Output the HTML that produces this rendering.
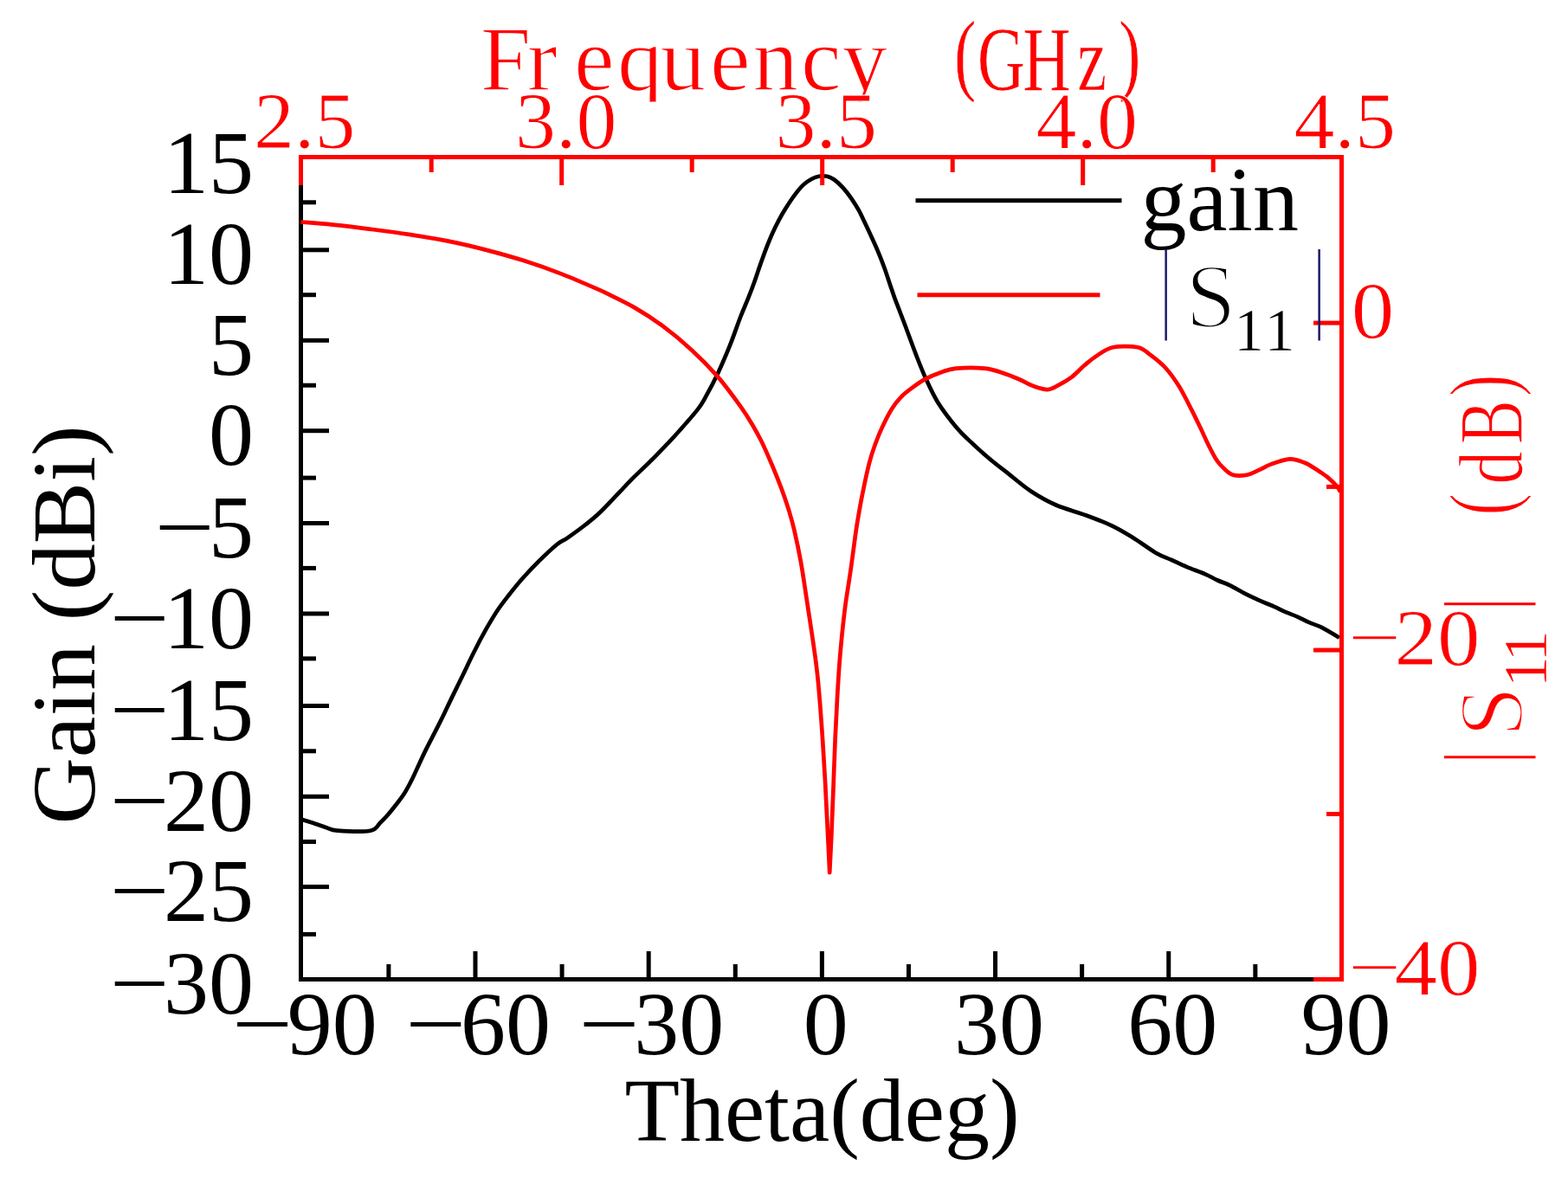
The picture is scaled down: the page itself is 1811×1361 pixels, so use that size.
<!DOCTYPE html>
<html lang="en">
<head>
<meta charset="utf-8">
<title>Gain and |S11| plot</title>
<style>
html, body { margin: 0; padding: 0; background: #ffffff; }
body { width: 1811px; height: 1361px; overflow: hidden; }
svg { display: block; }
text { font-kerning: none; }
</style>
</head>
<body>
<svg width="1811" height="1361" viewBox="0 0 1811 1361" role="img" aria-label="Gain versus theta and S11 versus frequency">
<rect x="0" y="0" width="1811" height="1361" fill="#ffffff"/>
<g id="layer-gain">
<path d="M347.5 946.5 C349.8 947.2 356.6 949.3 361.4 950.8 C366.3 952.4 371.8 954.6 376.5 956.0 C381.2 957.5 381.2 959.1 389.7 959.7 C398.2 960.3 419.6 961.3 427.8 959.7 C436.0 958.1 435.9 953.3 439.2 950.4 C442.5 947.4 444.3 945.6 447.4 942.0 C450.5 938.5 454.5 933.4 457.8 929.2 C461.0 925.1 463.8 921.8 466.8 917.1 C469.8 912.3 472.8 906.6 475.7 900.8 C478.6 895.1 481.3 888.7 484.1 882.7 C486.9 876.7 489.6 870.7 492.7 864.6 C495.7 858.6 498.9 852.6 502.2 846.2 C505.4 839.9 508.8 833.2 512.2 826.3 C515.5 819.4 518.7 812.5 522.4 804.9 C526.1 797.3 529.9 789.5 534.2 780.7 C538.5 771.9 543.5 761.0 548.0 752.2 C552.4 743.4 556.5 735.6 561.0 727.7 C565.4 719.9 570.3 711.6 574.7 705.0 C579.1 698.4 582.6 694.0 587.3 688.0 C592.1 681.9 597.4 675.2 603.3 668.5 C609.2 661.9 615.9 654.7 622.6 648.1 C629.3 641.5 638.2 633.1 643.6 628.7 C649.0 624.3 649.8 625.3 655.2 621.6 C660.5 617.9 669.6 611.4 675.8 606.5 C682.1 601.6 686.1 598.6 692.7 592.3 C699.3 586.0 709.4 575.0 715.5 568.7 C721.5 562.4 722.1 561.3 729.0 554.3 C736.0 547.4 748.2 536.0 757.0 527.1 C765.7 518.2 773.7 509.9 781.7 501.0 C789.7 492.1 799.6 480.9 805.2 473.9 C810.7 466.9 810.9 465.9 814.8 458.9 C818.7 452.0 824.0 442.2 828.7 432.3 C833.4 422.3 838.6 410.1 843.0 399.2 C847.4 388.2 851.6 375.6 855.1 366.5 C858.6 357.5 861.3 351.7 864.0 344.9 C866.7 338.1 869.0 332.1 871.3 325.7 C873.7 319.3 875.6 312.8 877.9 306.4 C880.2 299.9 882.6 293.2 885.0 286.9 C887.4 280.7 890.0 274.3 892.5 268.8 C894.9 263.4 897.1 259.1 899.7 254.2 C902.3 249.3 905.1 244.5 908.2 239.6 C911.2 234.8 914.6 229.5 918.0 225.1 C921.3 220.7 924.8 216.4 928.0 213.4 C931.3 210.3 934.5 208.3 937.5 206.7 C940.4 205.1 942.7 204.2 945.7 203.7 C948.7 203.2 952.5 203.1 955.4 203.7 C958.3 204.3 960.4 205.4 963.4 207.5 C966.4 209.7 970.1 213.1 973.4 216.6 C976.6 220.2 980.0 224.5 983.0 228.8 C986.0 233.1 988.7 237.4 991.4 242.2 C994.1 247.0 996.4 252.1 999.1 257.7 C1001.8 263.3 1005.0 270.3 1007.6 276.0 C1010.2 281.7 1012.2 286.0 1014.6 291.9 C1017.1 297.8 1019.8 305.0 1022.1 311.2 C1024.3 317.5 1026.3 323.8 1028.2 329.4 C1030.1 335.0 1030.9 337.6 1033.5 344.9 C1036.2 352.1 1040.2 362.1 1044.3 373.0 C1048.4 383.9 1054.0 399.6 1058.2 410.3 C1062.3 420.9 1064.9 427.8 1069.1 436.9 C1073.3 446.1 1077.5 455.7 1083.4 465.2 C1089.4 474.7 1098.8 486.8 1104.8 494.1 C1110.9 501.4 1113.3 503.2 1119.6 509.1 C1125.8 515.0 1134.5 523.0 1142.2 529.5 C1149.9 536.0 1157.5 541.7 1165.7 548.1 C1173.8 554.5 1182.0 561.8 1191.0 567.7 C1200.0 573.6 1209.2 578.9 1219.7 583.5 C1230.2 588.1 1243.1 591.1 1254.0 595.2 C1264.9 599.2 1275.9 603.5 1285.1 607.9 C1294.2 612.3 1300.7 616.4 1309.0 621.5 C1317.3 626.6 1327.5 634.4 1334.8 638.7 C1342.2 642.9 1347.3 644.3 1353.3 647.0 C1359.4 649.8 1364.6 652.4 1371.0 655.1 C1377.4 657.8 1386.1 660.7 1392.0 663.3 C1397.8 665.8 1401.6 668.4 1406.4 670.5 C1411.2 672.7 1415.5 673.9 1420.6 676.4 C1425.8 678.9 1431.5 682.5 1437.1 685.4 C1442.7 688.3 1448.6 691.0 1454.4 693.6 C1460.1 696.2 1466.5 698.6 1471.7 700.9 C1476.8 703.2 1481.1 705.5 1485.5 707.4 C1489.9 709.3 1493.6 710.4 1498.0 712.3 C1502.4 714.3 1507.3 717.1 1512.1 719.2 C1516.8 721.3 1520.6 722.0 1526.5 724.9 C1532.3 727.8 1543.5 734.8 1546.9 736.8" fill="none" stroke="#000000" stroke-width="4.7" stroke-linejoin="round" stroke-linecap="butt"/>
<rect x="345.00" y="179.00" width="5.00" height="955.00" fill="#000000"/>
<rect x="345.00" y="1129.00" width="1207.00" height="5.00" fill="#000000"/>
<rect x="345.00" y="179.00" width="35.00" height="5.00" fill="#000000"/>
<rect x="345.00" y="231.30" width="20.00" height="5.00" fill="#000000"/>
<rect x="345.00" y="286.30" width="35.00" height="5.00" fill="#000000"/>
<rect x="345.00" y="338.20" width="20.00" height="5.00" fill="#000000"/>
<rect x="345.00" y="390.80" width="35.00" height="5.00" fill="#000000"/>
<rect x="345.00" y="442.70" width="20.00" height="5.00" fill="#000000"/>
<rect x="345.00" y="495.20" width="35.00" height="5.00" fill="#000000"/>
<rect x="345.00" y="549.60" width="20.00" height="5.00" fill="#000000"/>
<rect x="345.00" y="602.00" width="35.00" height="5.00" fill="#000000"/>
<rect x="345.00" y="653.90" width="20.00" height="5.00" fill="#000000"/>
<rect x="345.00" y="706.50" width="35.00" height="5.00" fill="#000000"/>
<rect x="345.00" y="758.40" width="20.00" height="5.00" fill="#000000"/>
<rect x="345.00" y="813.00" width="35.00" height="5.00" fill="#000000"/>
<rect x="345.00" y="865.30" width="20.00" height="5.00" fill="#000000"/>
<rect x="345.00" y="917.80" width="35.00" height="5.00" fill="#000000"/>
<rect x="345.00" y="970.00" width="20.00" height="5.00" fill="#000000"/>
<rect x="345.00" y="1022.10" width="35.00" height="5.00" fill="#000000"/>
<rect x="345.00" y="1076.90" width="20.00" height="5.00" fill="#000000"/>
<rect x="345.00" y="1129.00" width="35.00" height="5.00" fill="#000000"/>
<rect x="345.00" y="1099.00" width="5.00" height="35.00" fill="#000000"/>
<rect x="446.39" y="1114.00" width="5.00" height="20.00" fill="#000000"/>
<rect x="546.49" y="1099.00" width="5.00" height="35.00" fill="#000000"/>
<rect x="646.59" y="1114.00" width="5.00" height="20.00" fill="#000000"/>
<rect x="746.68" y="1099.00" width="5.00" height="35.00" fill="#000000"/>
<rect x="846.78" y="1114.00" width="5.00" height="20.00" fill="#000000"/>
<rect x="946.87" y="1099.00" width="5.00" height="35.00" fill="#000000"/>
<rect x="1046.96" y="1114.00" width="5.00" height="20.00" fill="#000000"/>
<rect x="1147.06" y="1099.00" width="5.00" height="35.00" fill="#000000"/>
<rect x="1247.15" y="1114.00" width="5.00" height="20.00" fill="#000000"/>
<rect x="1347.25" y="1099.00" width="5.00" height="35.00" fill="#000000"/>
<rect x="1447.35" y="1114.00" width="5.00" height="20.00" fill="#000000"/>
<rect x="1547.00" y="1099.00" width="5.00" height="35.00" fill="#000000"/>
</g>
<g id="layer-s11">
<path d="M347.5 256.5 C353.6 257.0 370.7 258.2 384.2 259.6 C397.6 261.0 413.6 262.9 428.3 264.8 C443.0 266.7 457.8 268.6 472.5 270.9 C487.2 273.2 501.8 275.4 516.6 278.4 C531.3 281.3 546.1 284.8 560.8 288.6 C575.5 292.4 590.1 296.4 604.8 301.1 C619.5 305.8 634.2 310.9 648.9 316.6 C663.7 322.4 684.8 331.7 693.3 335.4 C701.8 339.0 693.5 335.3 700.1 338.6 C706.6 341.9 721.6 348.7 732.5 355.1 C743.5 361.5 754.7 368.7 765.8 376.9 C776.8 385.1 788.5 394.8 798.9 404.4 C809.3 414.0 819.0 423.8 828.3 434.4 C837.5 445.0 847.5 458.8 854.3 468.1 C861.0 477.4 864.3 482.8 868.7 490.2 C873.1 497.6 876.7 504.2 880.6 512.2 C884.5 520.3 888.5 529.7 892.2 538.5 C895.9 547.3 899.6 556.5 902.8 565.1 C906.0 573.7 908.8 582.1 911.3 590.1 C913.7 598.1 915.2 603.2 917.5 613.1 C919.8 623.0 922.7 636.8 925.0 649.5 C927.3 662.2 929.1 675.3 931.2 689.1 C933.3 702.9 935.6 717.8 937.7 732.1 C939.8 746.4 942.0 760.8 943.6 775.2 C945.3 789.5 946.4 804.4 947.5 818.1 C948.6 831.9 949.3 843.4 950.3 857.7 C951.2 872.0 952.1 886.9 953.1 904.0 C954.0 921.1 955.0 942.8 955.9 960.2 C956.8 977.6 957.8 1000.2 958.2 1008.2 C958.5 1001.9 959.4 986.5 960.1 970.2 C960.8 953.9 961.7 929.9 962.5 910.6 C963.2 891.3 963.9 871.5 964.6 854.4 C965.4 837.3 966.1 822.4 966.9 808.1 C967.7 793.8 968.5 780.6 969.4 768.5 C970.3 756.4 971.2 747.0 972.3 735.4 C973.5 723.8 974.7 711.8 976.4 699.1 C978.1 686.4 980.4 673.7 982.4 659.3 C984.5 645.0 987.0 624.6 988.7 613.1 C990.4 601.5 991.1 598.0 992.5 590.0 C993.9 582.0 995.3 574.3 997.3 565.0 C999.2 555.7 1002.0 542.7 1004.2 534.2 C1006.4 525.8 1008.1 520.9 1010.5 514.3 C1012.9 507.7 1015.3 501.5 1018.5 494.6 C1021.7 487.6 1026.1 478.7 1029.8 472.7 C1033.5 466.7 1036.8 462.7 1040.8 458.6 C1044.7 454.5 1048.7 451.5 1053.4 448.1 C1058.2 444.6 1063.8 440.6 1069.3 437.7 C1074.9 434.7 1080.9 432.2 1086.7 430.2 C1092.5 428.2 1095.8 426.4 1104.2 425.6 C1112.6 424.8 1128.1 424.7 1137.3 425.6 C1146.5 426.5 1152.7 429.1 1159.2 431.2 C1165.8 433.3 1171.1 435.6 1176.7 438.0 C1182.4 440.4 1187.5 443.8 1193.0 445.8 C1198.6 447.8 1205.2 450.3 1210.2 450.1 C1215.2 449.9 1218.5 447.0 1223.2 444.6 C1227.9 442.1 1233.3 439.0 1238.2 435.3 C1243.1 431.6 1247.9 426.1 1252.5 422.1 C1257.2 418.2 1260.5 415.1 1265.9 411.6 C1271.4 408.1 1277.3 403.0 1285.3 401.3 C1293.3 399.6 1306.7 399.8 1314.0 401.3 C1321.3 402.8 1323.7 406.4 1329.1 410.3 C1334.4 414.3 1340.7 419.0 1346.1 425.0 C1351.6 431.0 1356.9 438.6 1361.9 446.5 C1366.8 454.5 1371.7 464.5 1375.8 472.6 C1380.0 480.6 1383.3 487.8 1386.7 494.8 C1390.0 501.8 1392.8 508.3 1395.9 514.5 C1399.0 520.7 1402.3 527.3 1405.3 531.8 C1408.3 536.3 1410.7 538.8 1413.9 541.6 C1417.1 544.4 1420.1 547.6 1424.4 548.8 C1428.7 550.0 1435.0 549.7 1439.9 548.8 C1444.8 547.9 1449.3 545.2 1453.9 543.2 C1458.6 541.1 1462.1 538.5 1468.0 536.4 C1474.0 534.2 1483.2 530.6 1489.6 530.3 C1496.0 530.0 1501.4 532.4 1506.6 534.5 C1511.7 536.5 1516.2 539.7 1520.6 542.5 C1525.0 545.3 1529.2 547.9 1533.1 551.1 C1537.0 554.4 1541.7 559.1 1544.2 562.0 C1546.7 564.8 1547.4 567.2 1548.0 568.2" fill="none" stroke="#ff0000" stroke-width="4.7" stroke-linejoin="round" stroke-linecap="butt"/>
<rect x="345.00" y="179.00" width="1207.00" height="5.00" fill="#ff0000"/>
<rect x="1547.00" y="179.00" width="5.00" height="955.00" fill="#ff0000"/>
<rect x="345.00" y="179.00" width="5.00" height="35.00" fill="#ff0000"/>
<rect x="495.70" y="179.00" width="5.00" height="20.00" fill="#ff0000"/>
<rect x="646.20" y="179.00" width="5.00" height="35.00" fill="#ff0000"/>
<rect x="796.70" y="179.00" width="5.00" height="20.00" fill="#ff0000"/>
<rect x="947.20" y="179.00" width="5.00" height="35.00" fill="#ff0000"/>
<rect x="1097.70" y="179.00" width="5.00" height="20.00" fill="#ff0000"/>
<rect x="1248.20" y="179.00" width="5.00" height="35.00" fill="#ff0000"/>
<rect x="1398.70" y="179.00" width="5.00" height="20.00" fill="#ff0000"/>
<rect x="1547.00" y="179.00" width="5.00" height="35.00" fill="#ff0000"/>
<rect x="1517.00" y="370.60" width="35.00" height="5.00" fill="#ff0000"/>
<rect x="1532.00" y="559.90" width="20.00" height="5.00" fill="#ff0000"/>
<rect x="1517.00" y="748.60" width="35.00" height="5.00" fill="#ff0000"/>
<rect x="1532.00" y="938.00" width="20.00" height="5.00" fill="#ff0000"/>
<rect x="1517.00" y="1129.00" width="35.00" height="5.00" fill="#ff0000"/>
</g>
<g id="labels" font-family="'Liberation Serif', 'Times New Roman', serif" style="font-kerning:none">
<defs><clipPath id="tclip"><rect x="500" y="0" width="900" height="117.5"/></clipPath></defs>
<g clip-path="url(#tclip)">
<text x="583.85 626.35 686.35 739.35 788.85 843.35 895.85 948.35 998.85" y="104.4" font-size="105" fill="#ff0000" text-anchor="middle" stroke="#ffffff" stroke-width="1.5" paint-order="fill stroke" stroke-linejoin="round">Frequency</text>
<text transform="translate(0,104.4) scale(0.73,1)" x="1527.19 1584.04 1655.96 1727.88 1787.47" y="-7 0 0 0 -7" font-size="105" fill="#ff0000" text-anchor="middle" stroke="#ffffff" stroke-width="0.7" paint-order="fill stroke" stroke-linejoin="round">(GHz)</text>
</g>
<text x="293.00" y="222.80" font-size="104" fill="#000000" text-anchor="end">15</text>
<text x="293.00" y="328.30" font-size="104" fill="#000000" text-anchor="end">10</text>
<text x="293.00" y="432.80" font-size="104" fill="#000000" text-anchor="end">5</text>
<text x="293.00" y="537.20" font-size="104" fill="#000000" text-anchor="end">0</text>
<text y="644.00" font-size="104" fill="#000000"><tspan x="178.68" textLength="69.01" lengthAdjust="spacingAndGlyphs">−</tspan><tspan x="241.00">5</tspan></text>
<text y="748.50" font-size="104" fill="#000000"><tspan x="126.68" textLength="69.01" lengthAdjust="spacingAndGlyphs">−</tspan><tspan x="189.00">10</tspan></text>
<text y="855.00" font-size="104" fill="#000000"><tspan x="126.68" textLength="69.01" lengthAdjust="spacingAndGlyphs">−</tspan><tspan x="189.00">15</tspan></text>
<text y="959.80" font-size="104" fill="#000000"><tspan x="126.68" textLength="69.01" lengthAdjust="spacingAndGlyphs">−</tspan><tspan x="189.00">20</tspan></text>
<text y="1064.10" font-size="104" fill="#000000"><tspan x="126.68" textLength="69.01" lengthAdjust="spacingAndGlyphs">−</tspan><tspan x="189.00">25</tspan></text>
<text y="1171.00" font-size="104" fill="#000000"><tspan x="126.68" textLength="69.01" lengthAdjust="spacingAndGlyphs">−</tspan><tspan x="189.00">30</tspan></text>
<text y="1217.60" font-size="104" fill="#000000"><tspan x="268.12" textLength="70.23" lengthAdjust="spacingAndGlyphs">−</tspan><tspan x="331.85">90</tspan></text>
<text y="1217.60" font-size="104" fill="#000000"><tspan x="468.31" textLength="70.23" lengthAdjust="spacingAndGlyphs">−</tspan><tspan x="532.04">60</tspan></text>
<text y="1217.60" font-size="104" fill="#000000"><tspan x="668.50" textLength="70.23" lengthAdjust="spacingAndGlyphs">−</tspan><tspan x="732.23">30</tspan></text>
<text x="953.87" y="1217.60" font-size="104" fill="#000000" text-anchor="middle">0</text>
<text x="1154.06" y="1217.60" font-size="104" fill="#000000" text-anchor="middle">30</text>
<text x="1354.25" y="1217.60" font-size="104" fill="#000000" text-anchor="middle">60</text>
<text x="1554.44" y="1217.60" font-size="104" fill="#000000" text-anchor="middle">90</text>
<text x="351.70" y="171.30" font-size="94" fill="#ff0000" text-anchor="middle" stroke="#ffffff" stroke-width="0.9" paint-order="fill stroke" stroke-linejoin="round">2.5</text>
<text x="653.70" y="171.30" font-size="94" fill="#ff0000" text-anchor="middle" stroke="#ffffff" stroke-width="0.9" paint-order="fill stroke" stroke-linejoin="round">3.0</text>
<text x="954.20" y="171.30" font-size="94" fill="#ff0000" text-anchor="middle" stroke="#ffffff" stroke-width="0.9" paint-order="fill stroke" stroke-linejoin="round">3.5</text>
<text x="1255.20" y="171.30" font-size="94" fill="#ff0000" text-anchor="middle" stroke="#ffffff" stroke-width="0.9" paint-order="fill stroke" stroke-linejoin="round">4.0</text>
<text x="1553.20" y="171.30" font-size="94" fill="#ff0000" text-anchor="middle" stroke="#ffffff" stroke-width="0.9" paint-order="fill stroke" stroke-linejoin="round">4.5</text>
<text x="1560.70" y="390.10" font-size="94" fill="#ff0000" text-anchor="start" stroke="#ffffff" stroke-width="0.9" paint-order="fill stroke" stroke-linejoin="round" textLength="49.54" lengthAdjust="spacingAndGlyphs">0</text>
<text y="768.10" font-size="94" fill="#ff0000"><tspan x="1555.95" textLength="62.59" lengthAdjust="spacingAndGlyphs" stroke="#ffffff" stroke-width="1.8" paint-order="fill stroke">−</tspan><tspan x="1610.50" stroke="#ffffff" stroke-width="0.9" paint-order="fill stroke" stroke-linejoin="round" textLength="99.08" lengthAdjust="spacingAndGlyphs">20</tspan></text>
<text y="1148.50" font-size="94" fill="#ff0000"><tspan x="1555.95" textLength="62.59" lengthAdjust="spacingAndGlyphs" stroke="#ffffff" stroke-width="1.8" paint-order="fill stroke">−</tspan><tspan x="1610.50" stroke="#ffffff" stroke-width="0.9" paint-order="fill stroke" stroke-linejoin="round" textLength="99.08" lengthAdjust="spacingAndGlyphs">40</tspan></text>
<text x="721.40" y="1318.20" font-size="104" fill="#000000" text-anchor="start">Theta(deg)</text>
<text transform="translate(109,952.5) rotate(-90) scale(1.03,1)" font-size="104" fill="#000000">Gain (dBi)</text>
<g transform="translate(1758,901) rotate(-90)" fill="#ff0000" font-size="105">
<text font-size="105" fill="#ff0000"><tspan x="20.34" y="-9.97" font-family="'DejaVu Sans', sans-serif" fill="#ff0000" textLength="11.89" lengthAdjust="spacingAndGlyphs">|</tspan><tspan x="49.55" y="0.00" stroke="#ffffff" stroke-width="3.0" paint-order="fill stroke" stroke-linejoin="round">S</tspan><tspan x="106.70 136.50" y="28.30" font-size="72" stroke="#ffffff" stroke-width="0.5" paint-order="fill stroke" stroke-linejoin="round">11</tspan><tspan x="197.34" y="-9.97" font-family="'DejaVu Sans', sans-serif" fill="#ff0000" textLength="11.89" lengthAdjust="spacingAndGlyphs">|</tspan></text>
<text transform="scale(0.73,1)" x="435.96 494.18 566.10 624.32" y="-11 0 0 -11" text-anchor="middle" stroke="#ffffff" stroke-width="1.5" paint-order="fill stroke" stroke-linejoin="round">(dB)</text>
</g>
</g>
<g id="legend" font-family="'Liberation Serif', 'Times New Roman', serif" style="font-kerning:none">
<rect x="1057.50" y="229.20" width="238.00" height="5.00" fill="#000000"/>
<rect x="1059.50" y="338.30" width="211.00" height="5.00" fill="#ff0000"/>
<text x="1317.50" y="265.60" font-size="106" fill="#000000" text-anchor="start">gain</text>
<text font-size="105" fill="#000000"><tspan x="1341.58" y="367.72" font-family="'DejaVu Sans', sans-serif" fill="#1a1a6e" textLength="10.31" lengthAdjust="spacingAndGlyphs">|</tspan><tspan x="1369.30" y="377.70" stroke="#ffffff" stroke-width="3.0" paint-order="fill stroke" stroke-linejoin="round">S</tspan><tspan x="1425.00 1460.50" y="405.40" font-size="70" stroke="#ffffff" stroke-width="0.5" paint-order="fill stroke" stroke-linejoin="round">11</tspan><tspan x="1518.38" y="367.72" font-family="'DejaVu Sans', sans-serif" fill="#1a1a6e" textLength="10.31" lengthAdjust="spacingAndGlyphs">|</tspan></text>
</g>
</svg>
</body>
</html>
